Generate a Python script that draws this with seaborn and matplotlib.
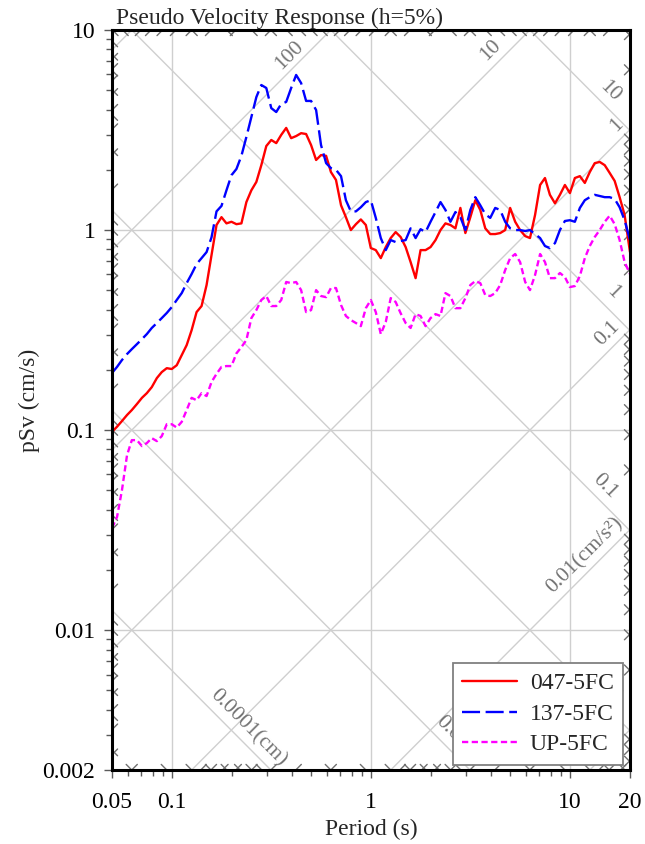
import numpy as np
import pandas as pd
import matplotlib
matplotlib.use("Agg")
import matplotlib.pyplot as plt
import seaborn as sns
from matplotlib.ticker import LogLocator, NullFormatter

# ---------------- data ----------------
period = [0.0500, 0.0530, 0.0561, 0.0595, 0.0629, 0.0667, 0.0707, 0.0748, 0.0792, 0.0840,
          0.0889, 0.0942, 0.0998, 0.1057, 0.1120, 0.1186, 0.1256, 0.1330, 0.1409, 0.1493,
          0.1581, 0.1675, 0.1774, 0.1879, 0.1991, 0.2109, 0.2234, 0.2366, 0.2506, 0.2655,
          0.2812, 0.2979, 0.3155, 0.3342, 0.3540, 0.3750, 0.3972, 0.4207, 0.4456, 0.4721,
          0.500, 0.530, 0.561, 0.595, 0.629, 0.667, 0.707, 0.748, 0.792, 0.840,
          0.889, 0.942, 0.998, 1.057, 1.120, 1.186, 1.256, 1.330, 1.409, 1.493,
          1.581, 1.675, 1.774, 1.879, 1.991, 2.109, 2.234, 2.366, 2.506, 2.655,
          2.812, 2.979, 3.155, 3.342, 3.540, 3.750, 3.972, 4.207, 4.456, 4.721,
          5.00, 5.30, 5.61, 5.95, 6.29, 6.67, 7.07, 7.48, 7.92, 8.40,
          8.89, 9.42, 9.98, 10.57, 11.20, 11.86, 12.56, 13.30, 14.09, 14.93,
          15.81, 16.75, 17.74, 18.79, 20.0]

sv_047 = [0.098, 0.104, 0.111, 0.119, 0.126, 0.135, 0.145, 0.153, 0.164, 0.182,
          0.195, 0.204, 0.202, 0.211, 0.237, 0.266, 0.316, 0.389, 0.417, 0.531,
          0.750, 1.06, 1.16, 1.08, 1.10, 1.07, 1.08, 1.38, 1.58, 1.74,
          2.11, 2.63, 2.82, 2.72, 2.99, 3.24, 2.88, 2.95, 3.05, 3.02,
          2.66, 2.24, 2.37, 2.35, 1.95, 1.78, 1.33, 1.16, 1.00, 1.07,
          1.13, 1.06, 0.813, 0.794, 0.724, 0.822, 0.912, 0.977, 0.923, 0.822,
          0.692, 0.575, 0.794, 0.794, 0.822, 0.891, 1.00, 1.08, 1.06, 1.02,
          1.29, 0.966, 1.16, 1.41, 1.26, 1.02, 0.955, 0.955, 0.966, 1.00,
          1.29, 1.10, 1.00, 0.933, 0.912, 1.19, 1.68, 1.82, 1.50, 1.36,
          1.50, 1.68, 1.53, 1.82, 1.86, 1.72, 1.95, 2.16, 2.19, 2.11,
          1.93, 1.76, 1.46, 1.19, 0.776]

sv_137 = [0.193, 0.207, 0.224, 0.240, 0.254, 0.269, 0.285, 0.302, 0.324, 0.343,
          0.363, 0.385, 0.412, 0.447, 0.484, 0.543, 0.603, 0.676, 0.724, 0.776,
          0.920, 1.24, 1.32, 1.58, 1.88, 2.02, 2.35, 2.92, 3.67, 4.62,
          5.31, 5.13, 4.07, 3.89, 4.27, 4.37, 5.13, 5.96, 5.43, 4.42,
          4.42, 3.98, 2.66, 2.16, 2.04, 2.00, 1.86, 1.41, 1.24, 1.24,
          1.30, 1.38, 1.41, 1.15, 0.912, 0.794, 0.891, 0.871, 0.881, 0.891,
          1.02, 0.912, 1.01, 0.977, 1.10, 1.23, 1.38, 1.26, 1.10, 1.23,
          1.16, 1.00, 1.26, 1.46, 1.33, 1.20, 1.15, 1.29, 1.26, 1.10,
          1.02, 1.00, 1.00, 0.989, 1.00, 0.955, 0.912, 0.832, 0.813, 0.861,
          1.00, 1.11, 1.12, 1.10, 1.29, 1.41, 1.46, 1.50, 1.48, 1.46,
          1.46, 1.43, 1.30, 1.12, 0.891]

sv_up = [0.0324, 0.0368, 0.0501, 0.0750, 0.0891, 0.0891, 0.0832, 0.0861, 0.0912, 0.0881,
         0.0933, 0.107, 0.107, 0.103, 0.110, 0.126, 0.145, 0.141, 0.153, 0.148,
         0.174, 0.191, 0.207, 0.209, 0.209, 0.242, 0.260, 0.282, 0.363, 0.398,
         0.447, 0.468, 0.417, 0.417, 0.447, 0.550, 0.543, 0.550, 0.501, 0.389,
         0.398, 0.501, 0.468, 0.462, 0.513, 0.513, 0.422, 0.372, 0.355, 0.343,
         0.331, 0.407, 0.447, 0.389, 0.302, 0.347, 0.457, 0.437, 0.384, 0.343,
         0.324, 0.380, 0.372, 0.331, 0.363, 0.380, 0.372, 0.484, 0.468, 0.407,
         0.407, 0.457, 0.531, 0.556, 0.543, 0.473, 0.468, 0.484, 0.531, 0.631,
         0.724, 0.759, 0.692, 0.550, 0.501, 0.596, 0.759, 0.692, 0.575, 0.575,
         0.610, 0.582, 0.519, 0.525, 0.589, 0.724, 0.832, 0.923, 1.00, 1.10,
         1.18, 1.07, 0.891, 0.692, 0.603]

series_names = ["047-5FC", "137-5FC", "UP-5FC"]
series_colors = ["#ff0000", "#0000ff", "#ff00ff"]
series_dashes = ["", (13, 4), (4.5, 2.5)]

x_ticks = [0.05, 0.1, 1, 10, 20]
x_tick_labels = ["0.05", "0.1", "1", "10", "20"]
y_ticks = [0.002, 0.01, 0.1, 1, 10]
y_tick_labels = ["0.002", "0.01", "0.1", "1", "10"]

# tripartite scales: displacement (cm) and acceleration (cm/s^2) decades
disp_decades = [1e-5, 1e-4, 1e-3, 1e-2, 1e-1, 1, 10, 100]
acc_decades = [1e-3, 1e-2, 1e-1, 1, 10, 100, 1000, 1e4]
# (value, text, period where label sits, pixel offset)
disp_labels = [(10, "10", 15.9, 19), (1, "1", 16.5, 21), (0.1, "0.1", 15.0, 19),
               (0.01, "0.01", 15.0, 19), (0.001, "0.001", 2.65, 19),
               (0.0001, "0.0001(cm)", 0.241, 19)]
acc_labels = [(100, "100", 0.388, 17), (10, "10", 3.97, 20), (1, "1", 17.2, 18),
              (0.1, "0.1", 15.4, 19), (0.01, "0.01(cm/s²)", 11.9, 19)]

# ---------------- figure ----------------
sns.set_theme(style="white")
plt.rcParams["font.family"] = ["Liberation Serif", "DejaVu Serif"]
plt.rcParams["lines.scale_dashes"] = False

W, H = 645, 844
fig, ax = plt.subplots(figsize=(W / 100, H / 100), dpi=100)
fig.subplots_adjust(left=112 / W, right=630 / W, bottom=1 - 770 / H, top=1 - 30 / H)

df = pd.DataFrame({
    "Period": period * 3,
    "pSv": sv_047 + sv_137 + sv_up,
    "Record": [series_names[0]] * len(period) + [series_names[1]] * len(period)
              + [series_names[2]] * len(period),
})

sns.lineplot(data=df, x="Period", y="pSv", hue="Record", style="Record",
             hue_order=series_names, style_order=series_names,
             palette=dict(zip(series_names, series_colors)),
             dashes=dict(zip(series_names, series_dashes)),
             linewidth=1.7, legend=False, ax=ax, zorder=3)
data_lines = list(ax.get_lines())

ax.set_xscale("log")
ax.set_yscale("log")
xmin, xmax, ymin, ymax = 0.05, 20, 0.002, 10
ax.set_xlim(xmin, xmax)
ax.set_ylim(ymin, ymax)

grid_c = "#cfcfcf"
tick_c = "#5a5a5a"
two_pi = 2 * np.pi
Tends = np.array([xmin, xmax])

# decade diagonals
for d in disp_decades:
    ax.plot(Tends, two_pi * d / Tends, color=grid_c, lw=1.0, zorder=1)
for a in acc_decades:
    ax.plot(Tends, a * Tends / two_pi, color=grid_c, lw=1.0, zorder=1)
# horizontal / vertical grid
for xv in [0.1, 1, 10]:
    ax.axvline(xv, color=grid_c, lw=1.0, zorder=1)
for yv in [0.01, 0.1, 1]:
    ax.axhline(yv, color=grid_c, lw=1.0, zorder=1)

# minor diagonal ticks where the scales meet the frame
h = 0.028
diag_tick_c = "#707070"
for kind in ("d", "a"):
    for e in range(-6, 6):
        for m in range(2, 10):
            v = m * 10.0 ** e
            pts = []
            if kind == "d":
                f = lambda T: two_pi * v / T
                finv = lambda S: two_pi * v / S
            else:
                f = lambda T: v * T / two_pi
                finv = lambda S: two_pi * S / v
            for T in (xmin, xmax):
                S = f(T)
                if ymin <= S <= ymax:
                    pts.append((T, S))
            for S in (ymin, ymax):
                T = finv(S)
                if xmin <= T <= xmax:
                    pts.append((T, S))
            for T, S in pts:
                k = 10 ** h
                if kind == "d":
                    xs, ys = [T / k, T * k], [S * k, S / k]
                else:
                    xs, ys = [T / k, T * k], [S / k, S * k]
                ax.plot(xs, ys, color=diag_tick_c, lw=1.0, zorder=2, clip_on=True)

lab_c = "#737373"
for v, txt, T, off in disp_labels:
    ax.annotate(txt, xy=(T, two_pi * v / T), xytext=(0, off), textcoords="offset pixels",
                rotation=-45, rotation_mode="anchor", ha="center", va="center",
                color=lab_c, fontsize=15.5, zorder=2, annotation_clip=False)
for v, txt, T, off in acc_labels:
    ax.annotate(txt, xy=(T, v * T / two_pi), xytext=(0, off), textcoords="offset pixels",
                rotation=45, rotation_mode="anchor", ha="center", va="center",
                color=lab_c, fontsize=15.5, zorder=2, annotation_clip=False)

# axes styling
for sp in ax.spines.values():
    sp.set_visible(True)
    sp.set_color("black")
    sp.set_linewidth(2.2)
    sp.set_zorder(6)

ax.set_xticks(x_ticks, x_tick_labels)
ax.set_yticks(y_ticks, y_tick_labels)
ax.xaxis.set_minor_locator(LogLocator(base=10, subs=np.arange(2, 10)))
ax.yaxis.set_minor_locator(LogLocator(base=10, subs=np.arange(2, 10)))
ax.xaxis.set_minor_formatter(NullFormatter())
ax.yaxis.set_minor_formatter(NullFormatter())
ax.tick_params(which="major", direction="out", length=6, width=1.0, color=tick_c,
               labelsize=17, labelcolor="black", bottom=True, left=True,
               top=False, right=False)
ax.tick_params(axis="x", which="major", pad=10)
ax.tick_params(axis="y", which="major", pad=6)
ax.tick_params(which="minor", direction="out", length=4, width=1.0, color=tick_c,
               bottom=True, left=True, top=False, right=False)

ax.set_xlabel("Period (s)", fontsize=17, labelpad=4)
ax.set_ylabel("pSv (cm/s)", fontsize=17, labelpad=2)
ax.set_title("Pseudo Velocity Response (h=5%)", loc="left", fontsize=17, pad=4, x=0.008)

leg = ax.legend(data_lines, series_names, loc="lower right",
                bbox_to_anchor=(0.9865, 0.007), borderaxespad=0, fontsize=17,
                frameon=True, fancybox=False, framealpha=1, edgecolor="#808080",
                handlelength=2.3, handletextpad=0.55, labelspacing=0.38,
                borderpad=0.4)
leg.get_frame().set_linewidth(1.3)
leg.set_zorder(10)

fig.savefig("out.png", dpi=100)
